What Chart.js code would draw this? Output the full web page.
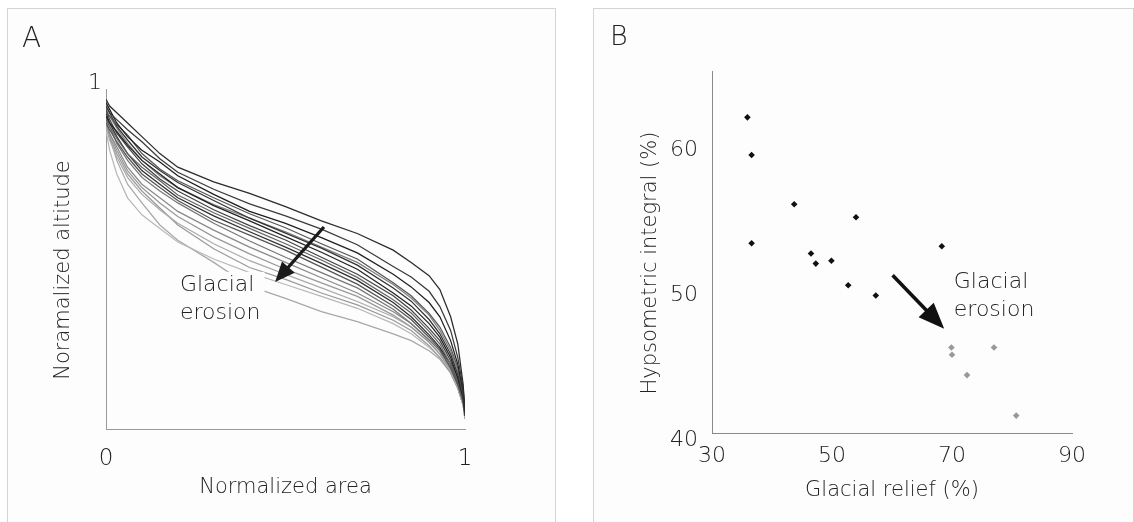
<!DOCTYPE html>
<html><head><meta charset="utf-8">
<script src="https://cdn.jsdelivr.net/npm/chart.js@4.4.1/dist/chart.umd.min.js"></script>
<style>
html,body{margin:0;padding:0;background:#fff;width:1134px;height:522px;overflow:hidden;position:relative;}
.panel{position:absolute;top:8px;border:1px solid #d4d4d4;border-bottom:none;background:#fdfdfd;}
#pa{left:7px;width:547px;height:513px;}
#pb{left:593px;width:539px;height:513px;}
canvas{display:block;}
.letter{position:absolute;font-family:'DejaVu Sans',sans-serif;font-weight:200;color:#222;line-height:1;}
</style></head><body>
<div class="panel" id="pa"><canvas id="ca" width="547" height="513"></canvas></div>
<div class="panel" id="pb"><canvas id="cb" width="539" height="513"></canvas></div>
<div class="letter" style="left:22px;top:24px;font-size:28px;">A</div>
<div class="letter" style="left:610px;top:22px;font-size:27px;">B</div>
<script>
// ---------- Panel A: hypsometric curves ----------
const areaSteps = [0, 0.01, 0.03, 0.06, 0.1, 0.15, 0.2, 0.3, 0.4, 0.5, 0.6, 0.7, 0.8, 0.85, 0.9, 0.93, 0.96, 0.98, 0.995, 1];
const curve01 = [0.97, 0.95, 0.93, 0.90, 0.86, 0.81, 0.77, 0.727, 0.693, 0.654, 0.612, 0.575, 0.526, 0.49, 0.451, 0.41, 0.33, 0.25, 0.13, 0.04];
const curve02 = [0.95, 0.93, 0.91, 0.88, 0.845, 0.795, 0.755, 0.705, 0.662, 0.627, 0.588, 0.542, 0.478, 0.447, 0.405, 0.36, 0.29, 0.21, 0.12, 0.05];
const curve03 = [0.96, 0.94, 0.90, 0.86, 0.82, 0.785, 0.745, 0.69, 0.64, 0.605, 0.563, 0.518, 0.455, 0.418, 0.372, 0.33, 0.26, 0.19, 0.11, 0.05];
const curve04 = [0.93, 0.92, 0.895, 0.865, 0.81, 0.765, 0.73, 0.68, 0.633, 0.592, 0.545, 0.50, 0.43, 0.392, 0.34, 0.30, 0.24, 0.18, 0.10, 0.04];
const curve05 = [0.95, 0.93, 0.89, 0.85, 0.80, 0.76, 0.725, 0.672, 0.62, 0.576, 0.532, 0.482, 0.415, 0.376, 0.322, 0.28, 0.22, 0.16, 0.10, 0.05];
const curve06 = [0.92, 0.90, 0.875, 0.835, 0.79, 0.75, 0.71, 0.657, 0.612, 0.566, 0.52, 0.47, 0.40, 0.362, 0.31, 0.27, 0.21, 0.15, 0.09, 0.04];
const curve07 = [0.94, 0.91, 0.87, 0.83, 0.78, 0.735, 0.70, 0.645, 0.598, 0.556, 0.505, 0.455, 0.392, 0.35, 0.296, 0.26, 0.20, 0.15, 0.09, 0.05];
const curve08 = [0.91, 0.89, 0.855, 0.81, 0.77, 0.73, 0.688, 0.636, 0.59, 0.545, 0.497, 0.446, 0.38, 0.341, 0.287, 0.25, 0.19, 0.14, 0.08, 0.04];
const curve09 = [0.93, 0.90, 0.86, 0.81, 0.76, 0.72, 0.68, 0.627, 0.58, 0.535, 0.487, 0.437, 0.372, 0.33, 0.277, 0.24, 0.19, 0.14, 0.09, 0.05];
const curve10 = [0.90, 0.88, 0.845, 0.80, 0.75, 0.71, 0.672, 0.614, 0.57, 0.526, 0.476, 0.426, 0.362, 0.322, 0.27, 0.235, 0.18, 0.13, 0.08, 0.04];
const curve11 = [0.92, 0.89, 0.84, 0.79, 0.74, 0.70, 0.665, 0.605, 0.553, 0.505, 0.46, 0.415, 0.352, 0.31, 0.262, 0.23, 0.18, 0.13, 0.08, 0.05];
const curve12 = [0.90, 0.87, 0.83, 0.77, 0.72, 0.68, 0.64, 0.585, 0.535, 0.49, 0.445, 0.40, 0.345, 0.31, 0.262, 0.23, 0.18, 0.13, 0.08, 0.04];
const curve13 = [0.91, 0.87, 0.82, 0.76, 0.71, 0.665, 0.625, 0.565, 0.515, 0.47, 0.43, 0.39, 0.335, 0.30, 0.255, 0.22, 0.175, 0.13, 0.08, 0.04];
const curve14 = [0.89, 0.85, 0.80, 0.74, 0.69, 0.645, 0.605, 0.545, 0.495, 0.455, 0.415, 0.375, 0.33, 0.30, 0.255, 0.22, 0.17, 0.12, 0.07, 0.03];
const curve15 = [0.90, 0.86, 0.81, 0.75, 0.70, 0.65, 0.60, 0.53, 0.475, 0.44, 0.40, 0.365, 0.32, 0.29, 0.245, 0.21, 0.165, 0.12, 0.07, 0.03];
const curve16 = [0.88, 0.82, 0.75, 0.68, 0.63, 0.59, 0.55, 0.50, 0.46, 0.425, 0.39, 0.355, 0.31, 0.28, 0.24, 0.21, 0.165, 0.12, 0.07, 0.03];
const curve17 = [0.90, 0.86, 0.79, 0.72, 0.665, 0.60, 0.555, 0.49, 0.42, 0.384, 0.345, 0.316, 0.28, 0.26, 0.23, 0.205, 0.165, 0.12, 0.07, 0.03];
const curve18 = [0.94, 0.92, 0.885, 0.84, 0.79, 0.745, 0.71, 0.66, 0.62, 0.58, 0.535, 0.49, 0.425, 0.385, 0.335, 0.29, 0.23, 0.17, 0.10, 0.05];
const areaTicks = [0, 1];
const altitudeTicks = [1];

// ---------- Panel B: scatter ----------
const reliefDark   = [35.9, 36.6, 43.7, 54.0, 36.6, 46.5, 47.3, 49.9, 68.3, 52.7, 57.3];
const integralDark = [61.8, 59.2, 55.8, 54.9, 53.1, 52.4, 51.7, 51.9, 52.9, 50.2, 49.5];
const reliefLight   = [69.9, 70.0, 77.0, 72.5, 80.7];
const integralLight = [45.9, 45.4, 45.9, 44.0, 41.2];
const reliefTicks = [30, 50, 70, 90];
const integralTicks = [40, 50, 60];

// ---------- styles / annotations ----------
const FONT = "'DejaVu Sans', sans-serif";
const TXT = '#222';
const curves = [curve01, curve02, curve03, curve04, curve05, curve06, curve07, curve08, curve09,
                curve10, curve11, curve12, curve13, curve14, curve15, curve16, curve17, curve18];
const curveColors = ['#2b2b2b','#3a3a3a','#1e1e1e','#555','#333','#222','#444','#666','#2e2e2e',
                     '#555','#777','#8a8a8a','#999','#aaa','#9a9a9a','#b8b8b8','#a8a8a8','#808080'];
const arrowA = {from: [0.607, 0.594], to: [0.471, 0.432]};
const labelA = {x: 0.206, y1: 0.424, y2: 0.341};
const arrowB = {from: [60.1, 50.9], to: [68.7, 47.2]};
const labelB = {x: 70.3, y1: 50.4, y2: 48.5};

function drawArrow(ctx, x1, y1, x2, y2, lw, headLen, headW, color) {
  const ang = Math.atan2(y2 - y1, x2 - x1);
  const bx = x2 - headLen * Math.cos(ang), by = y2 - headLen * Math.sin(ang);
  ctx.save();
  ctx.strokeStyle = color; ctx.lineWidth = lw; ctx.lineCap = 'butt';
  ctx.beginPath(); ctx.moveTo(x1, y1); ctx.lineTo(bx + 2 * Math.cos(ang), by + 2 * Math.sin(ang)); ctx.stroke();
  ctx.fillStyle = color; ctx.beginPath(); ctx.moveTo(x2, y2);
  ctx.lineTo(bx + headW / 2 * Math.sin(ang), by - headW / 2 * Math.cos(ang));
  ctx.lineTo(bx - headW / 2 * Math.sin(ang), by + headW / 2 * Math.cos(ang));
  ctx.closePath(); ctx.fill();
  ctx.restore();
}
function drawYTitle(ctx, text, cx, cy, size) {
  ctx.save();
  ctx.translate(cx, cy); ctx.rotate(-Math.PI / 2);
  ctx.font = '200 ' + size + 'px ' + FONT; ctx.fillStyle = TXT;
  ctx.textAlign = 'center'; ctx.textBaseline = 'middle';
  ctx.fillText(text, 0, 0);
  ctx.restore();
}

const decorA = {
  id: 'decorA',
  afterDraw(chart) {
    const {ctx, scales: {x, y}, chartArea} = chart;
    drawYTitle(ctx, 'Noramalized altitude', 56, (chartArea.top + chartArea.bottom) / 2 + 11, 21);
    const lx = x.getPixelForValue(labelA.x);
    ctx.save();
    ctx.font = '200 22px ' + FONT; ctx.fillStyle = '#fdfdfd';
    ctx.fillRect(lx - 2, y.getPixelForValue(labelA.y1) - 13, ctx.measureText('erosion').width + 6, 56);
    ctx.fillStyle = TXT; ctx.textAlign = 'left'; ctx.textBaseline = 'middle';
    ctx.fillText('Glacial', lx, y.getPixelForValue(labelA.y1));
    ctx.fillText('erosion', lx, y.getPixelForValue(labelA.y2));
    ctx.restore();
    drawArrow(ctx, x.getPixelForValue(arrowA.from[0]), y.getPixelForValue(arrowA.from[1]),
              x.getPixelForValue(arrowA.to[0]), y.getPixelForValue(arrowA.to[1]), 3.2, 20, 17, '#1a1a1a');
  }
};
const decorB = {
  id: 'decorB',
  afterDraw(chart) {
    const {ctx, scales: {x, y}, chartArea} = chart;
    drawYTitle(ctx, 'Hypsometric integral (%)', 57, (chartArea.top + chartArea.bottom) / 2 + 11, 21);
    const lx = x.getPixelForValue(labelB.x);
    ctx.save();
    ctx.font = '200 22px ' + FONT; ctx.fillStyle = TXT; ctx.textAlign = 'left'; ctx.textBaseline = 'middle';
    ctx.fillText('Glacial', lx, y.getPixelForValue(labelB.y1));
    ctx.fillText('erosion', lx, y.getPixelForValue(labelB.y2));
    ctx.restore();
    drawArrow(ctx, x.getPixelForValue(arrowB.from[0]), y.getPixelForValue(arrowB.from[1]),
              x.getPixelForValue(arrowB.to[0]), y.getPixelForValue(arrowB.to[1]), 3.6, 26, 21, '#111');
  }
};

const common = {
  responsive: false, animation: false, events: [],
  plugins: {legend: {display: false}, tooltip: {enabled: false}}
};

new Chart(document.getElementById('ca'), {
  type: 'line',
  data: {
    datasets: curves.map((c, i) => ({
      data: areaSteps.map((a, j) => ({x: a, y: c[j]})),
      borderColor: curveColors[i], borderWidth: 1.25, pointRadius: 0, tension: 0, fill: false
    }))
  },
  options: Object.assign({}, common, {
    layout: {padding: {top: 80, right: 90, left: 0, bottom: 0}},
    scales: {
      x: {
        type: 'linear', min: 0, max: 1,
        afterBuildTicks: s => { s.ticks = areaTicks.map(v => ({value: v})); },
        afterFit: s => { s.height = 93; },
        grid: {display: false, drawTicks: false},
        border: {display: true, color: '#9a9a9a', width: 1},
        ticks: {padding: 16, color: TXT, font: {family: FONT, size: 23, weight: '200'}, maxRotation: 0},
        title: {display: true, text: 'Normalized area', color: TXT, font: {family: FONT, size: 21, weight: '200'}, padding: {top: 0, bottom: 22}}
      },
      y: {
        type: 'linear', min: 0, max: 1,
        afterBuildTicks: s => { s.ticks = altitudeTicks.map(v => ({value: v})); },
        afterFit: s => { s.width = 98; },
        grid: {display: false, drawTicks: false},
        border: {display: true, color: '#9a9a9a', width: 1},
        ticks: {padding: 4, labelOffset: -6, color: TXT, font: {family: FONT, size: 22, weight: '200'}}
      }
    }
  }),
  plugins: [decorA]
});

new Chart(document.getElementById('cb'), {
  type: 'scatter',
  data: {
    datasets: [
      {data: reliefDark.map((v, i) => ({x: v, y: integralDark[i]})), pointStyle: 'rectRot', pointRadius: 3.3,
       backgroundColor: '#111', borderColor: '#111', borderWidth: 0},
      {data: reliefLight.map((v, i) => ({x: v, y: integralLight[i]})), pointStyle: 'rectRot', pointRadius: 3.3,
       backgroundColor: '#999', borderColor: '#999', borderWidth: 0}
    ]
  },
  options: Object.assign({}, common, {
    layout: {padding: {top: 62, right: 61, left: 0, bottom: 0}},
    scales: {
      x: {
        type: 'linear', min: 30, max: 90,
        afterBuildTicks: s => { s.ticks = reliefTicks.map(v => ({value: v})); },
        afterFit: s => { s.height = 89; },
        grid: {display: false, drawTicks: false},
        border: {display: true, color: '#8a8a8a', width: 1},
        ticks: {padding: 10, color: TXT, font: {family: FONT, size: 22, weight: '200'}, maxRotation: 0},
        title: {display: true, text: 'Glacial relief (%)', color: TXT, font: {family: FONT, size: 21, weight: '200'}, padding: {top: 0, bottom: 19}}
      },
      y: {
        type: 'linear', min: 40, max: 65,
        afterBuildTicks: s => { s.ticks = integralTicks.map(v => ({value: v})); },
        afterFit: s => { s.width = 118; },
        grid: {display: false, drawTicks: false},
        border: {display: true, color: '#8a8a8a', width: 1},
        ticks: {padding: 14, labelOffset: 7, color: TXT, font: {family: FONT, size: 22, weight: '200'}}
      }
    }
  }),
  plugins: [decorB]
});
</script>
</body></html>
